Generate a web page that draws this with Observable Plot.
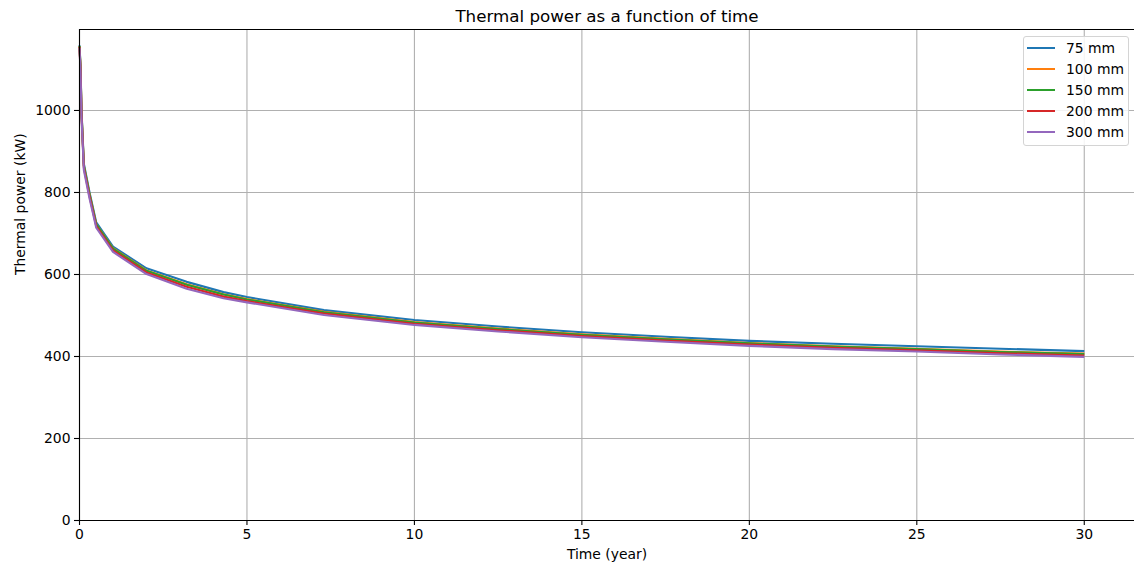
<!DOCTYPE html>
<html>
<head>
<meta charset="utf-8">
<script src="https://cdn.jsdelivr.net/npm/d3@7"></script>
<script src="https://cdn.jsdelivr.net/npm/@observablehq/plot@0.6"></script>
<style>
  body { margin: 0; background: #fff; font-family: "DejaVu Sans", sans-serif; }
  #wrap { position: relative; width: 1134px; height: 564px; overflow: hidden; background: #fff; }
  #legend { position: absolute; left: 1023px; top: 36px; width: 104px; padding: 1px 0 3px 0;
            border: 1px solid #d4d4d4; border-radius: 3px; background: rgba(255,255,255,0.85);
            font-size: 13.9px; color: #000; }
  .row { display: flex; align-items: center; height: 20.8px; }
  .sw { width: 28px; height: 2px; margin-left: 3px; margin-right: 11px; }
</style>
</head>
<body>
<div id="wrap"><div id="chart"></div><div id="legend"></div></div>
<script>
// ---- data ----
const times = [0, 0.03, 0.06, 0.13, 0.3, 0.5, 1, 2, 3.2, 4.3, 5, 7.3, 10, 12.5, 15, 17.5, 20, 22.5, 25, 27.5, 30];
const seriesNames = ["75 mm", "100 mm", "150 mm", "200 mm", "300 mm"];
const colors = ["#1f77b4", "#ff7f0e", "#2ca02c", "#d62728", "#9467bd"];
const power75  = [1159, 1110, 1000, 870, 800, 727, 668, 615, 582, 557, 545, 513, 489, 473, 459, 448, 438, 431, 425, 419, 413];
const power100 = [1157, 1105, 995, 865, 795, 722, 664, 610, 576, 552, 540, 509, 484, 468, 454, 443, 433, 425, 419, 412, 407];
const power150 = [1157, 1105, 995, 865, 795, 722, 663, 609, 575, 551, 539, 508, 483, 467, 453, 442, 432, 424, 418, 411, 406];
const power200 = [1155, 1100, 990, 860, 790, 718, 659, 605, 570, 546, 535, 505, 480, 464, 450, 439, 429, 421, 415, 408, 402];
const power300 = [1153, 1095, 985, 855, 785, 714, 655, 601, 565, 542, 532, 501, 477, 461, 447, 436, 426, 418, 412, 405, 399];
const xTicks = [0, 5, 10, 15, 20, 25, 30];
const yTicks = [0, 200, 400, 600, 800, 1000];
const xDomain = [0, 31.5];
const yDomain = [0, 1197.5];
const titleText = "Thermal power as a function of time";
const xLabel = "Time (year)";
const yLabel = "Thermal power (kW)";

const allSeries = [power75, power100, power150, power200, power300];
const rows = [];
allSeries.forEach((vals, i) => vals.forEach((v, j) => rows.push({t: times[j], p: v, s: seriesNames[i]})));

const grid = {stroke: "#b0b0b0", strokeOpacity: 1, strokeWidth: 1.1};

const chart = Plot.plot({
  width: 1134,
  height: 564,
  marginLeft: 79,
  marginRight: 0,
  marginTop: 29,
  marginBottom: 44,
  style: {fontFamily: "DejaVu Sans, sans-serif", fontSize: "13.9px", background: "#fff", color: "#000", overflow: "visible"},
  x: {domain: xDomain},
  y: {domain: yDomain},
  color: {domain: seriesNames, range: colors},
  marks: [
    Plot.gridX(xTicks, grid),
    Plot.gridY(yTicks, grid),
    Plot.axisX(xTicks, {tickSize: 5, tickPadding: 4, label: null, strokeWidth: 1.1, fontSize: 13.9, tickFormat: d => String(d)}),
    Plot.axisY(yTicks, {tickSize: 5, tickPadding: 4, label: null, strokeWidth: 1.1, fontSize: 13.9, tickFormat: d => String(d)}),
    Plot.line(rows, {x: "t", y: "p", z: "s", stroke: "s", strokeWidth: 2.1, strokeLinejoin: "round", strokeLinecap: "butt"}),
    Plot.ruleX([xDomain[0]], {stroke: "#000", strokeWidth: 1.1}),
    Plot.ruleY([yDomain[0]], {stroke: "#000", strokeWidth: 1.1}),
    Plot.ruleY([yDomain[1]], {stroke: "#000", strokeWidth: 1.1}),
    Plot.text([titleText], {frameAnchor: "top", dy: -13, text: d => d, fontSize: 16.7, lineAnchor: "middle", fill: "#000"}),
    Plot.text([xLabel], {frameAnchor: "bottom", dy: 34, text: d => d, fontSize: 13.9, lineAnchor: "middle", fill: "#000"}),
    Plot.text([yLabel], {frameAnchor: "left", dx: -59, text: d => d, fontSize: 13.9, rotate: -90, lineAnchor: "middle", fill: "#000"})
  ]
});
document.getElementById("chart").appendChild(chart);

const legend = document.getElementById("legend");
seriesNames.forEach((name, i) => {
  const row = document.createElement("div");
  row.className = "row";
  const sw = document.createElement("div");
  sw.className = "sw";
  sw.style.background = colors[i];
  const lab = document.createElement("span");
  lab.textContent = name;
  row.appendChild(sw);
  row.appendChild(lab);
  legend.appendChild(row);
});
</script>
</body>
</html>
